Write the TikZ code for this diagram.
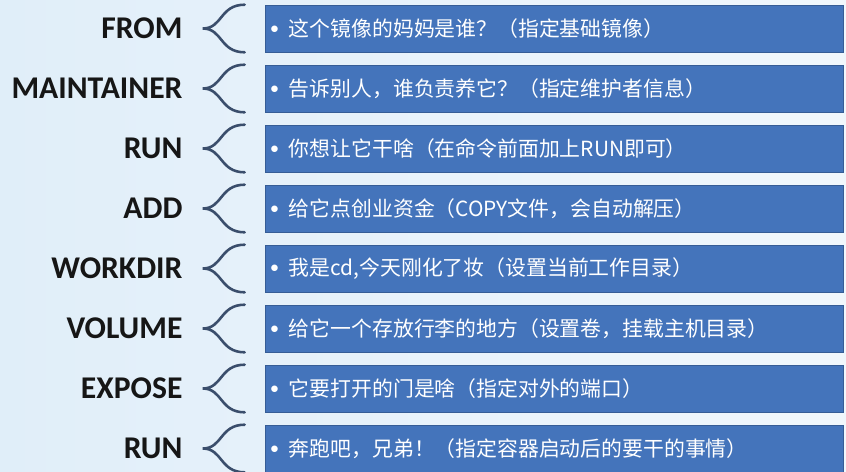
\documentclass[tikz,border=0pt]{standalone}
\usepackage{fontspec}
\setmainfont{Carlito}
\newfontfamily\cjk{Noto Sans CJK SC}
\usetikzlibrary{positioning,calc}
\definecolor{pagebg}{RGB}{224,238,249}
\definecolor{cmdblue}{RGB}{68,116,187}
\definecolor{braceink}{RGB}{58,78,108}
\definecolor{labelink}{RGB}{22,22,22}

\begin{document}
\begin{tikzpicture}[x=0.03cm, y=-0.03cm,
  cmdlabel/.style={font=\fontsize{27}{27}\selectfont\bfseries, text=labelink, inner sep=0pt},
  cmdbox/.style={fill=cmdblue, draw=cmdblue!80!black, line width=0.5pt,
    minimum width=17.34cm, minimum height=1.41cm, text width=484pt, align=left,
    inner xsep=3pt, inner ysep=0pt, text=white, font=\cjk\fontsize{17.8}{17.8}\selectfont},
  bracket/.style={draw=braceink, line width=2.2pt, line cap=round}]
\useasboundingbox (0,0) rectangle (846,471);
\shade[left color=pagebg, right color=pagebg!45!white] (0,0) rectangle (846,471);
\foreach \i/\cmd/\txt in {1/FROM/{这个镜像的妈妈是谁？（指定基础镜像）},
    2/MAINTAINER/{告诉别人，谁负责养它？（指定维护者信息）},
    3/RUN/{你想让它干啥（在命令前面加上RUN即可）},
    4/ADD/{给它点创业资金（COPY文件，会自动解压）},
    5/WORKDIR/{我是cd,今天刚化了妆（设置当前工作目录）},
    6/VOLUME/{给它一个存放行李的地方（设置卷，挂载主机目录）},
    7/EXPOSE/{它要打开的门是啥（指定对外的端口）},
    8/RUN/{奔跑吧，兄弟！（指定容器启动后的要干的事情）}}{
  \node[cmdbox] (box\i) at (554,{60*\i-31.5})
    {\raisebox{2.6pt}{\fontsize{15}{15}\selectfont$\bullet$}\hspace{8.5pt}\txt};
  \coordinate (tip\i) at ($(box\i.west)+(-62,0)$);
  \node[cmdlabel, left=0.6cm of tip\i] (cmd\i) {\cmd};
  \draw[bracket] ($(box\i.north west)+(-20,0)$) .. controls +(-25,0) and +(20,0) .. (tip\i)
    .. controls +(20,0) and +(-25,0) .. ($(box\i.south west)+(-20,0)$);
}
\end{tikzpicture}
\end{document}
